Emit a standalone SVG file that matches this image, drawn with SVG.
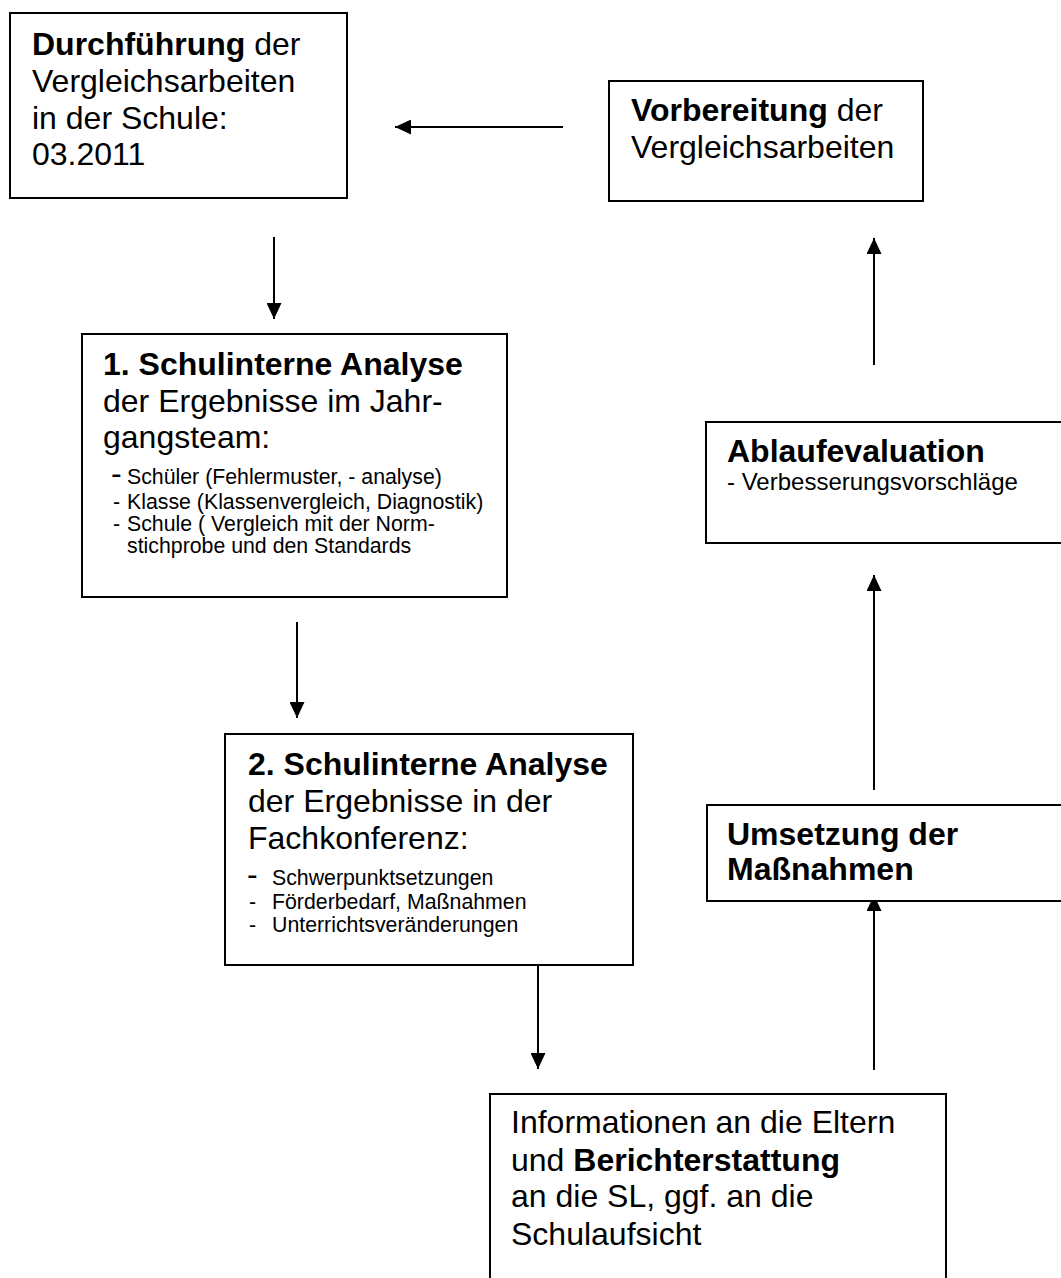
<svg xmlns="http://www.w3.org/2000/svg" width="1061" height="1278" viewBox="0 0 1061 1278">
<style>
.box{fill:#fff;stroke:#000;stroke-width:2}
.t{font-family:"Liberation Sans",Arial,sans-serif;font-size:32px;fill:#000}
.s{font-family:"Liberation Sans",Arial,sans-serif;font-size:21.3px;fill:#000}
.m{font-family:"Liberation Sans",Arial,sans-serif;font-size:24px;fill:#000}
.b{font-weight:bold}
.c{stroke:#000;stroke-width:2;fill:none;marker-end:url(#ah)}
</style>
<defs>
<marker id="ah" markerUnits="userSpaceOnUse" markerWidth="16" markerHeight="15" refX="16" refY="7.5" orient="auto">
<path d="M0,0 L16,7.5 L0,15 z" fill="#000"/>
</marker>
</defs>
<rect width="1061" height="1278" fill="#fff"/>
<g id="connectors">
<line class="c" x1="563" y1="127" x2="395" y2="127"/>
<line class="c" x1="274" y1="237" x2="274" y2="319"/>
<line class="c" x1="297" y1="622" x2="297" y2="718"/>
<line class="c" x1="538" y1="897" x2="538" y2="1069"/>
<line class="c" x1="874" y1="1070" x2="874" y2="895"/>
<line class="c" x1="874" y1="790" x2="874" y2="575"/>
<line class="c" x1="874" y1="365" x2="874" y2="238"/>
</g>
<g id="durchfuehrung">
<rect class="box" x="10" y="13" width="337" height="185"/>
<text class="t" x="32" y="55"><tspan class="b">Durchführung</tspan> der</text>
<text class="t" x="32" y="92">Vergleichsarbeiten</text>
<text class="t" x="32" y="128.5">in der Schule:</text>
<text class="t" x="32" y="165">03.2011</text>
</g>
<g id="vorbereitung">
<rect class="box" x="609" y="81" width="314" height="120"/>
<text class="t" x="631" y="121"><tspan class="b">Vorbereitung</tspan> der</text>
<text class="t" x="631" y="158">Vergleichsarbeiten</text>
</g>
<g id="analyse1">
<rect class="box" x="82" y="334" width="425" height="263"/>
<text class="t b" x="103" y="375">1. Schulinterne Analyse</text>
<text class="t" x="103" y="412">der Ergebnisse im Jahr-</text>
<text class="t" x="103" y="448">gangsteam:</text>
<text class="t" x="111" y="484">-</text>
<text class="s" x="127" y="484">Schüler (Fehlermuster, - analyse)</text>
<text class="s" x="113" y="509">-</text>
<text class="s" x="127" y="509">Klasse (Klassenvergleich, Diagnostik)</text>
<text class="s" x="113" y="531">-</text>
<text class="s" x="127" y="531">Schule ( Vergleich mit der  Norm-</text>
<text class="s" x="127" y="553">stichprobe und den Standards</text>
</g>
<g id="analyse2">
<rect class="box" x="225" y="734" width="408" height="231"/>
<text class="t b" x="248" y="775">2. Schulinterne Analyse</text>
<text class="t" x="248" y="812">der Ergebnisse in der</text>
<text class="t" x="248" y="849">Fachkonferenz:</text>
<text class="t" x="247" y="885">-</text>
<text class="s" x="272" y="885">Schwerpunktsetzungen</text>
<text class="s" x="249" y="909">-</text>
<text class="s" x="272" y="909">Förderbedarf, Maßnahmen</text>
<text class="s" x="249" y="932">-</text>
<text class="s" x="272" y="932">Unterrichtsveränderungen</text>
</g>
<g id="informationen">
<rect class="box" x="490" y="1094" width="456" height="200"/>
<text class="t" x="511" y="1133">Informationen an die Eltern</text>
<text class="t" x="511" y="1171">und <tspan class="b">Berichterstattung</tspan></text>
<text class="t" x="511" y="1207">an die SL, ggf. an die</text>
<text class="t" x="511" y="1245">Schulaufsicht</text>
</g>
<g id="ablaufevaluation">
<rect class="box" x="706" y="422" width="364" height="121"/>
<text class="t b" x="727" y="462">Ablaufevaluation</text>
<text class="m" x="727" y="490">- Verbesserungsvorschläge</text>
</g>
<g id="umsetzung">
<rect class="box" x="707" y="805" width="363" height="96"/>
<text class="t b" x="727" y="845">Umsetzung der</text>
<text class="t b" x="727" y="880">Maßnahmen</text>
</g>
</svg>
